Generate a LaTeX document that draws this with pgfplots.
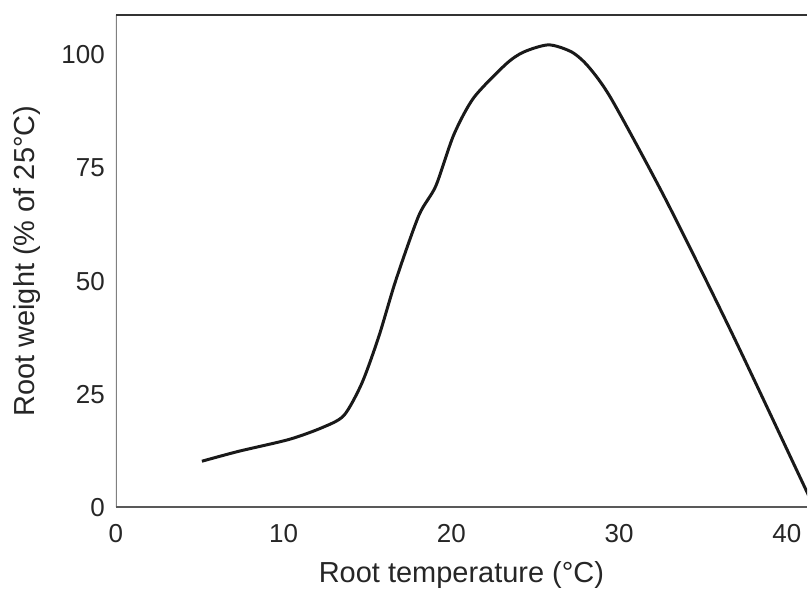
\documentclass[border=0pt]{standalone}
\usepackage{pgfplots}
\pgfplotsset{compat=1.18}
\usepackage{fontspec}
\setmainfont{Liberation Sans}

\begin{document}
\begin{tikzpicture}
\begin{axis}[
    scale only axis,
    width=346pt, height=246.5pt,
    xmin=0, xmax=41.2,
    ymin=0, ymax=108.8,
    xtick={0,10,20,30,40},
    ytick={0,25,50,75,100},
    major tick length=0pt,
    axis line style={draw=none},
    clip=true,
    /pgf/number format/assume math mode=true,
    tick label style={font=\fontsize{13}{15}\selectfont, text=black!85},
    label style={font=\fontsize{14.5}{17}\selectfont, text=black!85},
    xticklabel style={yshift=-5pt},
    yticklabel style={xshift=-2pt},
    xlabel={Root temperature (\textdegree C)},
    ylabel={Root weight (\% of 25\textdegree C)},
    xlabel style={yshift=-2.5pt},
    ylabel style={yshift=3.5pt},
]
\draw[line width=1.2pt, black!50] (rel axis cs:0,0) -- (rel axis cs:0,1);
\draw[line width=1.2pt, black!65] (rel axis cs:0,0) -- (rel axis cs:1,0);
\draw[line width=1.2pt, black!80] (rel axis cs:0,1) -- (rel axis cs:1,1);
\addplot[black!90, line width=1.5pt, smooth, tension=0.45] coordinates {
    (5.13, 10.2)
    (7.33, 12.4)
    (10.31, 15.0)
    (12.28, 17.6)
    (13.59, 20.3)
    (14.66, 27.4)
    (15.67, 37.7)
    (16.69, 50.2)
    (18.06, 64.5)
    (19.07, 71.0)
    (20.14, 82.3)
    (21.33, 90.5)
    (23.24, 97.9)
    (24.30, 100.6)
    (25.80, 102.2)
    (27.18, 100.6)
    (28.19, 97.3)
    (29.56, 90.1)
    (32.78, 68.0)
    (36.71, 38.6)
    (41.12, 4.0)
    (41.50, 1.0)
};
\end{axis}
\path (current axis.south west) ++(-58pt,-41pt) coordinate (bbA);
\path (current axis.north east) ++(0pt,7.5pt) coordinate (bbB);
\path (bbA) rectangle (bbB);
\end{tikzpicture}
\end{document}
